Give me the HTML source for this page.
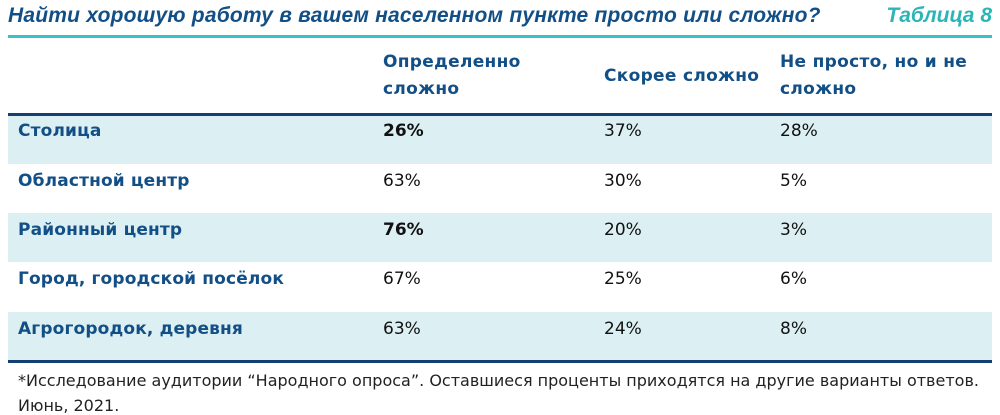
<!DOCTYPE html>
<html><head><meta charset="utf-8"><style>
body{margin:0;width:1000px;height:414px;background:#fff;font-family:"DejaVu Sans","Liberation Sans",sans-serif;position:relative;overflow:hidden}
.a{position:absolute;white-space:nowrap}
.t{left:8px;top:4px;font-family:"Liberation Sans",sans-serif;font-size:21px;font-weight:bold;font-style:italic;color:#124f86;letter-spacing:0.2px}
.t8{right:8px;top:4px;font-family:"Liberation Sans",sans-serif;font-size:21px;font-weight:bold;font-style:italic;color:#2bb5b8}
.line{position:absolute;left:8px;width:984px}
.h{font-size:17px;font-weight:bold;color:#124f86;line-height:27px;letter-spacing:0.3px}
.row{position:absolute;left:8px;width:984px;height:49px}
.lab{font-size:17px;font-weight:bold;color:#124f86;letter-spacing:0.15px}
.v{font-size:17px;color:#111}
.f{font-size:16px;color:#222;left:18px}
</style></head><body>
<div class="a t">Найти хорошую работу в вашем населенном пункте просто или сложно?</div>
<div class="a t8">Таблица 8</div>
<div class="line" style="top:35px;height:3px;background:#35c3c6"></div>
<div class="a h" style="left:383px;top:49px">Определенно<br>сложно</div>
<div class="a h" style="left:604px;top:63px">Скорее сложно</div>
<div class="a h" style="left:780px;top:49px">Не просто, но и не<br>сложно</div>
<div class="row" style="top:115px;background:#dceff2"></div>
<div class="row" style="top:213px;background:#dceff2"></div>
<div class="row" style="top:312px;background:#dceff2"></div>
<div class="line" style="top:113px;height:3px;background:#143f73"></div>
<div class="line" style="top:360px;height:3px;background:#143f73"></div>
<div class="a lab" style="left:18px;top:121px">Столица</div>
<div class="a v" style="left:383px;top:121px;font-weight:bold">26%</div>
<div class="a v" style="left:604px;top:121px">37%</div>
<div class="a v" style="left:780px;top:121px">28%</div>
<div class="a lab" style="left:18px;top:171px">Областной центр</div>
<div class="a v" style="left:383px;top:171px">63%</div>
<div class="a v" style="left:604px;top:171px">30%</div>
<div class="a v" style="left:780px;top:171px">5%</div>
<div class="a lab" style="left:18px;top:220px">Районный центр</div>
<div class="a v" style="left:383px;top:220px;font-weight:bold">76%</div>
<div class="a v" style="left:604px;top:220px">20%</div>
<div class="a v" style="left:780px;top:220px">3%</div>
<div class="a lab" style="left:18px;top:269px">Город, городской посёлок</div>
<div class="a v" style="left:383px;top:269px">67%</div>
<div class="a v" style="left:604px;top:269px">25%</div>
<div class="a v" style="left:780px;top:269px">6%</div>
<div class="a lab" style="left:18px;top:319px">Агрогородок, деревня</div>
<div class="a v" style="left:383px;top:319px">63%</div>
<div class="a v" style="left:604px;top:319px">24%</div>
<div class="a v" style="left:780px;top:319px">8%</div>
<div class="a f" style="top:371px">*Исследование аудитории “Народного опроса”. Оставшиеся проценты приходятся на другие варианты ответов.</div>
<div class="a f" style="top:396px">Июнь, 2021.</div>
</body></html>
